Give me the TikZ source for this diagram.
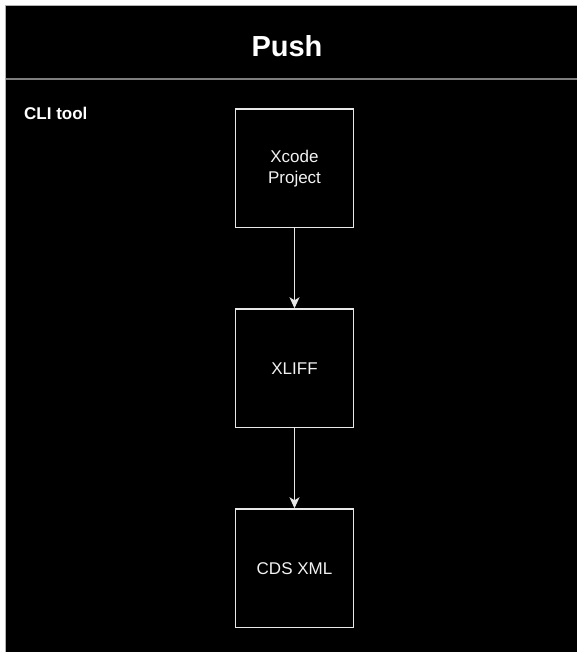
\documentclass[tikz,border=0pt]{standalone}
\usepackage{fontspec}
\setmainfont{Liberation Sans}
\usetikzlibrary{arrows.meta}
\definecolor{linegray}{HTML}{E8E8E8}
\definecolor{sepgray}{HTML}{7F7F7F}
\tikzset{
  stepbox/.style={draw=linegray, line width=1.4pt, fill=black, minimum width=118.5pt, minimum height=118.5pt, inner sep=0pt, align=center, text=white!95!black, font=\fontsize{17}{21}\selectfont},
  flow/.style={draw=linegray, line width=1.2pt, -{Stealth[length=11pt, width=10pt, inset=3pt, fill=linegray]}}
}
\begin{document}
\begin{tikzpicture}[x=1pt, y=-1pt]
\useasboundingbox (0,0) rectangle (576,652);
\fill[white] (0,0) rectangle (576,652);
\filldraw[fill=black, draw=sepgray!60, line width=1pt] (5.5,5.5) rectangle (580,660);
\draw[sepgray, line width=2.2pt] (5.5,79) -- (580,79);
\node[anchor=base, text=white, font=\bfseries\fontsize{29}{34}\selectfont] (title) at (287,57) {Push};
\node[anchor=base west, inner sep=0pt, text=white, font=\bfseries\fontsize{17}{20}\selectfont] (cli) at (24,120) {CLI tool};
\node[stepbox] (xcode) at (294.5,168.2) {Xcode\\Project};
\node[stepbox] (xliff) at (294.5,368.2) {XLIFF};
\node[stepbox] (cds) at (294.5,568.2) {CDS XML};
\draw[flow] (xcode.south) -- (xliff.north);
\draw[flow] (xliff.south) -- (cds.north);
\end{tikzpicture}
\end{document}
